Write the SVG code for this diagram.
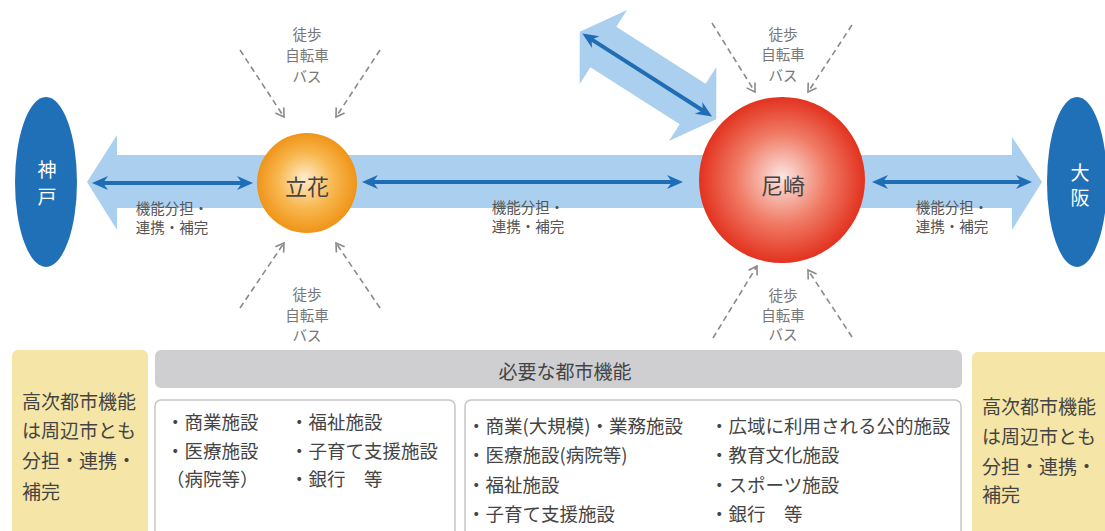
<svg xmlns="http://www.w3.org/2000/svg" width="1105" height="531" viewBox="0 0 1105 531">
<defs>
<style>
.jp{font-family:"Noto Sans CJK JP","Noto Sans",sans-serif}
.band{fill:#abcfee}
.dark{stroke:#1f6db5;stroke-width:4;fill:none;marker-start:url(#dh);marker-end:url(#dh)}
.dash{stroke:#8a8a8a;stroke-width:1.6;stroke-dasharray:6 4;fill:none;marker-end:url(#oh)}
.mode{font-size:14.5px;fill:#777;text-anchor:middle;dominant-baseline:central}
.lbl{font-size:14.5px;fill:#555;text-anchor:middle;dominant-baseline:central}
.box{font-size:18.5px;fill:#444;dominant-baseline:central}
.tan{fill:#f5e5a6}
.tant{font-size:19px;fill:#444;dominant-baseline:central}
.wbox{fill:#fff;stroke:#c6c6c6;stroke-width:1.5}
</style>
<marker id="dh" viewBox="-1 -8 18 16" markerWidth="18" markerHeight="16" refX="6" refY="0" orient="auto-start-reverse" markerUnits="userSpaceOnUse">
<path d="M0,-7 L16,0 L0,7 L5,0 Z" fill="#1f6db5"/>
</marker>
<marker id="oh" viewBox="-2 -7 12 14" markerWidth="12" markerHeight="14" refX="8" refY="0" orient="auto" markerUnits="userSpaceOnUse">
<path d="M0,-5 L8,0 L0,5" fill="none" stroke="#8a8a8a" stroke-width="1.6" stroke-dasharray="none"/>
</marker>
<radialGradient id="gOr" cx="0.5" cy="0.5" r="0.5" fx="0.47" fy="0.45">
<stop offset="0" stop-color="#fdeccd"/>
<stop offset="0.55" stop-color="#f8b850"/>
<stop offset="1" stop-color="#ef9418"/>
</radialGradient>
<radialGradient id="gRd" cx="0.5" cy="0.5" r="0.5" fx="0.5" fy="0.48">
<stop offset="0" stop-color="#fbe6e2"/>
<stop offset="0.55" stop-color="#f07a64"/>
<stop offset="1" stop-color="#e2321f"/>
</radialGradient>
</defs>

<g id="connectors">
<polygon class="band" points="87,182 117,135 117,155 1012,155 1012,137 1042,182 1012,230 1012,208 117,208 117,230"/>
<g transform="translate(648,75.5) rotate(32.6)">
<polygon class="band" points="-81,0 -53,-44 -53,-24 53,-24 53,-44 81,0 53,44 53,24 -53,24 -53,44"/>
<line class="dark" x1="-68" y1="0" x2="66" y2="0"/>
</g>
<line class="dark" x1="102" y1="183" x2="243" y2="183"/>
<line class="dark" x1="372" y1="182" x2="673" y2="182"/>
<line class="dark" x1="882" y1="182" x2="1022" y2="182"/>
<path class="dash" d="M240,50 L284,117"/>
<path class="dash" d="M380,50 L336,117"/>
<path class="dash" d="M240,308 L284,243"/>
<path class="dash" d="M380,308 L336,243"/>
<path class="dash" d="M712,23 L755,92"/>
<path class="dash" d="M852,25 L808,92"/>
<path class="dash" d="M713,338 L757,266"/>
<path class="dash" d="M852,337 L808,270"/>
<text class="jp lbl" x="172" y="207">機能分担・</text>
<text class="jp lbl" x="172" y="226">連携・補完</text>
<text class="jp lbl" x="528" y="206">機能分担・</text>
<text class="jp lbl" x="528" y="225">連携・補完</text>
<text class="jp lbl" x="952" y="206">機能分担・</text>
<text class="jp lbl" x="952" y="225">連携・補完</text>
<text class="jp mode" x="307" y="33">徒歩</text>
<text class="jp mode" x="307" y="54">自転車</text>
<text class="jp mode" x="307" y="75">バス</text>
<text class="jp mode" x="307" y="293">徒歩</text>
<text class="jp mode" x="307" y="314">自転車</text>
<text class="jp mode" x="307" y="334">バス</text>
<text class="jp mode" x="783" y="33">徒歩</text>
<text class="jp mode" x="783" y="53">自転車</text>
<text class="jp mode" x="783" y="74">バス</text>
<text class="jp mode" x="783" y="294">徒歩</text>
<text class="jp mode" x="783" y="314">自転車</text>
<text class="jp mode" x="783" y="333">バス</text>
</g>

<g id="kobe">
<ellipse cx="46" cy="182" rx="31" ry="85" fill="#2070b8"/>
<text class="jp" x="47" y="168" font-size="19" fill="#fff" text-anchor="middle" dominant-baseline="central">神</text>
<text class="jp" x="47" y="195" font-size="19" fill="#fff" text-anchor="middle" dominant-baseline="central">戸</text>
</g>

<g id="osaka">
<ellipse cx="1077" cy="182" rx="30" ry="85" fill="#2070b8"/>
<text class="jp" x="1080" y="171" font-size="19" fill="#fff" text-anchor="middle" dominant-baseline="central">大</text>
<text class="jp" x="1080" y="196" font-size="19" fill="#fff" text-anchor="middle" dominant-baseline="central">阪</text>
</g>

<g id="tachibana">
<circle cx="307" cy="183" r="50" fill="url(#gOr)"/>
<text class="jp" x="307" y="185" font-size="22" fill="#444" text-anchor="middle" dominant-baseline="central">立花</text>
</g>

<g id="amagasaki">
<circle cx="782" cy="180" r="83" fill="url(#gRd)"/>
<text class="jp" x="783" y="184" font-size="22" fill="#444" text-anchor="middle" dominant-baseline="central">尼崎</text>
</g>

<g id="left-note">
<rect class="tan" x="12" y="350" width="136" height="195" rx="6"/>
<text class="jp tant" x="22" y="400">高次都市機能</text>
<text class="jp tant" x="22" y="429">は周辺市とも</text>
<text class="jp tant" x="22" y="459">分担・連携・</text>
<text class="jp tant" x="22" y="490">補完</text>
</g>

<g id="right-note">
<rect class="tan" x="972" y="352" width="145" height="195" rx="6"/>
<text class="jp tant" x="982" y="405">高次都市機能</text>
<text class="jp tant" x="982" y="435">は周辺市とも</text>
<text class="jp tant" x="982" y="465">分担・連携・</text>
<text class="jp tant" x="982" y="493">補完</text>
</g>

<g id="header">
<rect x="155" y="350" width="807" height="38" rx="6" fill="#cfcfd2"/>
<text class="jp" x="565" y="370" font-size="19" fill="#444" text-anchor="middle" dominant-baseline="central">必要な都市機能</text>
</g>

<g id="tachibana-functions">
<rect class="wbox" x="155" y="400" width="300" height="145" rx="6"/>
<text class="jp box" x="166" y="421">・商業施設</text>
<text class="jp box" x="166" y="450">・医療施設</text>
<text class="jp box" x="166" y="478">（病院等）</text>
<text class="jp box" x="290" y="421">・福祉施設</text>
<text class="jp box" x="290" y="450">・子育て支援施設</text>
<text class="jp box" x="290" y="478">・銀行　等</text>
</g>

<g id="amagasaki-functions">
<rect class="wbox" x="465" y="400" width="496" height="145" rx="6"/>
<text class="jp box" x="467" y="425">・商業(大規模)・業務施設</text>
<text class="jp box" x="467" y="454">・医療施設(病院等)</text>
<text class="jp box" x="467" y="484">・福祉施設</text>
<text class="jp box" x="467" y="513">・子育て支援施設</text>
<text class="jp box" x="710" y="425">・広域に利用される公的施設</text>
<text class="jp box" x="710" y="454">・教育文化施設</text>
<text class="jp box" x="710" y="484">・スポーツ施設</text>
<text class="jp box" x="710" y="513">・銀行　等</text>
</g>
</svg>
